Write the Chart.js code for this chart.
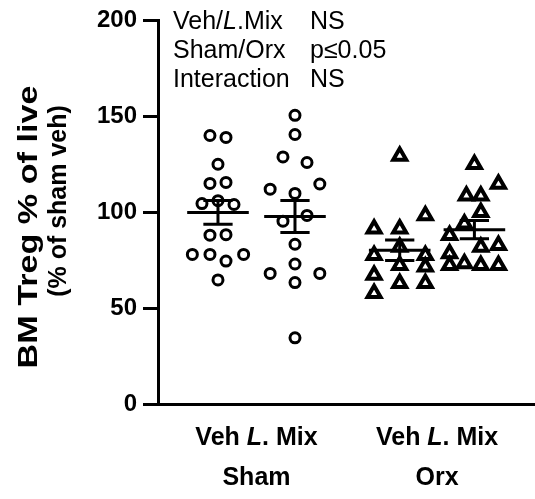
<!DOCTYPE html>
<html>
<head>
<meta charset="utf-8">
<script src="https://cdn.jsdelivr.net/npm/chart.js@4.4.1/dist/chart.umd.min.js"></script>
<style>
  html, body { margin: 0; padding: 0; background: #fff; overflow: hidden; }
  #wrap { width: 535px; height: 499px; position: relative; }
  #treg { display: block; }
</style>
</head>
<body>
<div id="wrap"><canvas id="treg"></canvas></div>
<script>
/* groups along the x axis: Sham Veh, Sham L.Mix, Orx Veh, Orx L.Mix */
var groupX = [1, 2, 3.36, 4.33];
var groupStyle = ['circle', 'circle', 'triangle', 'triangle'];

/* values, with their sideways spread (jitter units) */
var shamVeh = [140, 139, 125, 115, 115.5, 104.5, 106, 104, 88, 88.3, 78, 78, 74.5, 78, 64.7];
var shamVehJit = [-1, 1, 0, -1, 1, -2, 0, 2, -1, 1, -3.2, -1, 1, 3.2, 0];
var shamMix = [150.5, 140.5, 128.8, 125.9, 114.7, 112, 109.8, 95.3, 98.3, 83.3, 73, 68.1, 68.1, 63.3, 34.5];
var shamMixJit = [0, 0, -1.5, 1.5, 3.1, -3.1, 0, -1.5, 1.5, 0, 0, -3.1, 3.1, 0, 0];
var orxVeh = [129.3, 98.3, 91.4, 91.4, 77.6, 81.9, 77.6, 72.4, 71.5, 67.3, 63, 63, 57.8];
var orxVehJit = [0, 3.2, -3.2, 0, -3.2, 0, 3.2, 0, 3.2, -3.2, 0, 3.2, -3.2];
var orxMix = [125, 114.7, 108.6, 108.6, 100, 94, 88, 81.9, 82.8, 78.5, 72.4, 73.3, 72.4, 72.4];
var orxMixJit = [0, 3, -1, 0.8, 0.8, -1.25, -3.1, 0.8, 3, -3.1, -3.1, -1.25, 0.8, 3];

var yTicks = [0, 50, 100, 150, 200];
var pairLabels = ['Sham', 'Orx'];
var statRows = [
	['Veh/', 'L', '.Mix', 'NS'],
	['Sham/Orx', '', '', 'p\u22640.05'],
	['Interaction', '', '', 'NS']
];

var jitterStep = 0.104;
var FONT = '"Liberation Sans", Arial, sans-serif';

var groups = [[shamVeh, shamVehJit], [shamMix, shamMixJit], [orxVeh, orxVehJit], [orxMix, orxMixJit]];

function meanSem(arr) {
	var n = arr.length, s = 0, ss = 0;
	arr.forEach(function(v) { s += v; });
	var m = s / n;
	arr.forEach(function(v) { ss += (v - m) * (v - m); });
	return { mean: m, sem: Math.sqrt(ss / (n - 1)) / Math.sqrt(n) };
}

var datasets = groups.map(function(g, i) {
	return {
		data: g[0].map(function(v, k) { return { x: groupX[i] + g[1][k] * jitterStep, y: v }; }),
		pointStyle: groupStyle[i],
		pointRadius: i < 2 ? 5 : 7.5,
		pointBorderWidth: i < 2 ? 3 : 4,
		pointBackgroundColor: '#fff',
		pointBorderColor: '#000',
		showLine: false
	};
});

/* mean +/- SEM bars, axis titles and the stats box */
var decor = {
	id: 'decor',
	afterDatasetsDraw: function(chart) {
		var ctx = chart.ctx, xs = chart.scales.x, ys = chart.scales.y;
		ctx.save();
		ctx.strokeStyle = '#000';
		ctx.lineWidth = 3;
		groups.forEach(function(g, i) {
			var st = meanSem(g[0]);
			var cx = xs.getPixelForValue(groupX[i]);
			var hw = xs.getPixelForValue(groupX[i] + 0.4) - cx;
			var cw = xs.getPixelForValue(groupX[i] + 0.19) - cx;
			var ym = ys.getPixelForValue(st.mean);
			var yt = ys.getPixelForValue(st.mean + st.sem);
			var yb = ys.getPixelForValue(st.mean - st.sem);
			ctx.beginPath();
			ctx.moveTo(cx - hw, ym); ctx.lineTo(cx + hw, ym);
			ctx.moveTo(cx, yt); ctx.lineTo(cx, yb);
			ctx.moveTo(cx - cw, yt); ctx.lineTo(cx + cw, yt);
			ctx.moveTo(cx - cw, yb); ctx.lineTo(cx + cw, yb);
			ctx.stroke();
		});
		ctx.restore();
	},
	afterDraw: function(chart) {
		var ctx = chart.ctx, xs = chart.scales.x;
		ctx.save();
		ctx.fillStyle = '#000';
		ctx.textBaseline = 'middle';

		// y title, first line stretched along its length like the figure
		ctx.save();
		ctx.translate(29, 227);
		ctx.rotate(-Math.PI / 2);
		ctx.scale(1.22, 1);
		ctx.textAlign = 'center';
		ctx.font = 'bold 28px ' + FONT;
		ctx.fillText('BM Treg % of live', 0, 0);
		ctx.restore();
		ctx.save();
		ctx.translate(59, 201);
		ctx.rotate(-Math.PI / 2);
		ctx.textAlign = 'center';
		ctx.font = 'bold 25px ' + FONT;
		ctx.fillText('(% of sham veh)', 0, 0);
		ctx.restore();

		// x labels: Veh L. Mix under each pair
		for (var p = 0; p < 2; p++) {
			var mid = (xs.getPixelForValue(groupX[p * 2]) + xs.getPixelForValue(groupX[p * 2 + 1])) / 2;
			var parts = [['Veh ', 'bold '], ['L', 'italic bold '], ['. Mix', 'bold ']];
			var tw = 0;
			parts.forEach(function(pt) { ctx.font = pt[1] + '25px ' + FONT; tw += ctx.measureText(pt[0]).width; });
			var x0 = mid - tw / 2;
			ctx.textAlign = 'left';
			parts.forEach(function(pt) {
				ctx.font = pt[1] + '25px ' + FONT;
				ctx.fillText(pt[0], x0, 438);
				x0 += ctx.measureText(pt[0]).width;
			});
			ctx.textAlign = 'center';
			ctx.font = 'bold 25px ' + FONT;
			ctx.fillText(pairLabels[p], mid, 478);
		}

		// stats text
		ctx.textAlign = 'left';
		statRows.forEach(function(r, i) {
			var y = 22 + i * 29, x = 173;
			ctx.font = '25px ' + FONT;
			ctx.fillText(r[0], x, y); x += ctx.measureText(r[0]).width;
			ctx.font = 'italic 25px ' + FONT;
			ctx.fillText(r[1], x, y); x += ctx.measureText(r[1]).width;
			ctx.font = '25px ' + FONT;
			ctx.fillText(r[2], x, y);
			ctx.fillText(r[3], 310, y);
		});
		ctx.restore();
	}
};

new Chart(document.getElementById('treg'), {
	type: 'scatter',
	data: { datasets: datasets },
	options: {
		responsive: true,
		maintainAspectRatio: false,
		animation: false,
		layout: { autoPadding: false, padding: { top: 19, right: 0, left: 0, bottom: 0 } },
		plugins: { legend: { display: false }, tooltip: { enabled: false } },
		scales: {
			x: {
				type: 'linear',
				min: 0.221,
				max: 5.117,
				grid: { display: false },
				border: { display: true, color: '#000', width: 3 },
				ticks: { display: false },
				afterFit: function(s) { s.height = 95; }
			},
			y: {
				min: 0,
				max: 200,
				afterBuildTicks: function(s) { s.ticks = yTicks.map(function(v) { return { value: v }; }); },
				grid: { drawOnChartArea: false, drawTicks: true, tickLength: 15, lineWidth: 3, color: '#000' },
				border: { display: true, color: '#000', width: 3 },
				ticks: {
					color: '#000',
					padding: 6,
					font: { family: FONT, size: 24, weight: 'bold' }
				},
				afterFit: function(s) { s.width = 158; }
			}
		}
	},
	plugins: [decor]
});
</script>
</body>
</html>
